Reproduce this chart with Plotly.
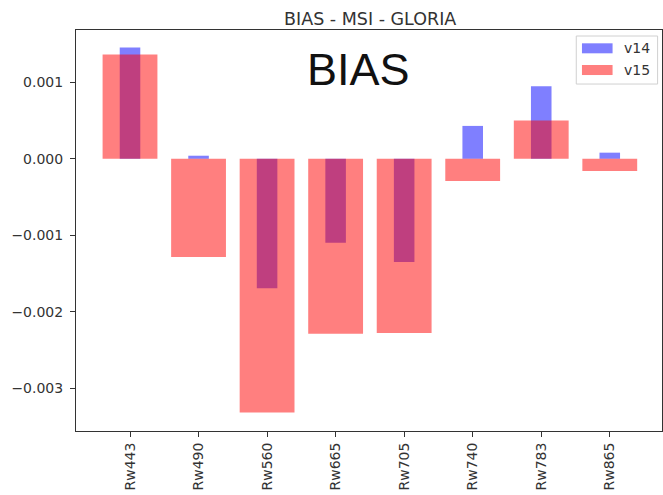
import plotly.graph_objects as go

categories = ["Rw443", "Rw490", "Rw560", "Rw665", "Rw705", "Rw740", "Rw783", "Rw865"]
v14 = [0.001455, 0.00004, -0.001695, -0.00110, -0.00135, 0.00043, 0.00095, 0.00008]
v15 = [0.001364, -0.001285, -0.00332, -0.00229, -0.00228, -0.00029, 0.00050, -0.00016]
y_ticks = [0.001, 0.000, -0.001, -0.002, -0.003]
y_tick_labels = ["0.001", "0.000", "\u22120.001", "\u22120.002", "\u22120.003"]

BLUE = "rgba(0,0,255,0.5)"
RED = "rgba(255,0,0,0.5)"
FONT = "DejaVu Sans"
TXT = "#333333"

W, H = 663, 495
L, R, T, B = 76, 1.3, 30, 64.3
pw, ph = W - L - R, H - T - B

def px(x):
    return (x - L) / pw

def py(y):
    return (H - B - y) / ph

fig = go.Figure()
fig.add_trace(go.Bar(x=categories, y=v14, width=0.3, marker=dict(color=BLUE, line=dict(width=0)), name="v14", showlegend=False))
fig.add_trace(go.Bar(x=categories, y=v15, width=0.8, marker=dict(color=RED, line=dict(width=0)), name="v15", showlegend=False))

shapes = []
annotations = []
# legend box
shapes.append(dict(type="rect", xref="paper", yref="paper", x0=px(576), x1=px(657.3), y0=py(84), y1=py(36),
                   line=dict(color="#d0d0d0", width=1), fillcolor="rgba(255,255,255,0.8)", layer="above"))
for name, col, yc in [("v14", BLUE, 48.3), ("v15", RED, 70.0)]:
    shapes.append(dict(type="rect", xref="paper", yref="paper", x0=px(581.7), x1=px(612.3), y0=py(yc + 5), y1=py(yc - 5),
                       line=dict(width=0), fillcolor=col, layer="above"))
    annotations.append(dict(text=name, xref="paper", yref="paper", x=px(622), y=py(yc), xanchor="left", yanchor="middle",
                            showarrow=False, font=dict(family=FONT, size=14, color=TXT)))

annotations.append(dict(text="BIAS", xref="paper", yref="paper", x=px(358.7), y=py(69), xanchor="center", yanchor="middle",
                        showarrow=False, font=dict(family="Liberation Sans", size=45, color="#111111")))

fig.update_layout(
    width=W, height=H,
    margin=dict(l=L, r=R, t=T, b=B, pad=0),
    paper_bgcolor="white", plot_bgcolor="white",
    barmode="overlay",
    showlegend=False,
    title=dict(text="BIAS - MSI - GLORIA", x=px(370), xref="paper", xanchor="center",
               y=1 - 18.5 / H, yref="container", yanchor="middle",
               font=dict(family=FONT, size=17.5, color=TXT)),
    shapes=shapes,
    annotations=annotations,
    xaxis=dict(type="category", range=[-0.788, 7.762], showgrid=False, zeroline=False,
               showline=True, mirror=True, linecolor="#333333", linewidth=1,
               ticks="outside", ticklen=5, tickcolor="#333333", tickangle=-90,
               tickfont=dict(family=FONT, size=14, color=TXT)),
    yaxis=dict(range=[-0.003562, 0.001685], showgrid=False, zeroline=False,
               showline=True, mirror=True, linecolor="#333333", linewidth=1,
               ticks="outside", ticklen=5, tickcolor="#333333",
               tickvals=y_ticks, ticktext=y_tick_labels, ticklabelstandoff=4,
               tickfont=dict(family=FONT, size=14, color=TXT)),
)

fig.write_html("out.html")
